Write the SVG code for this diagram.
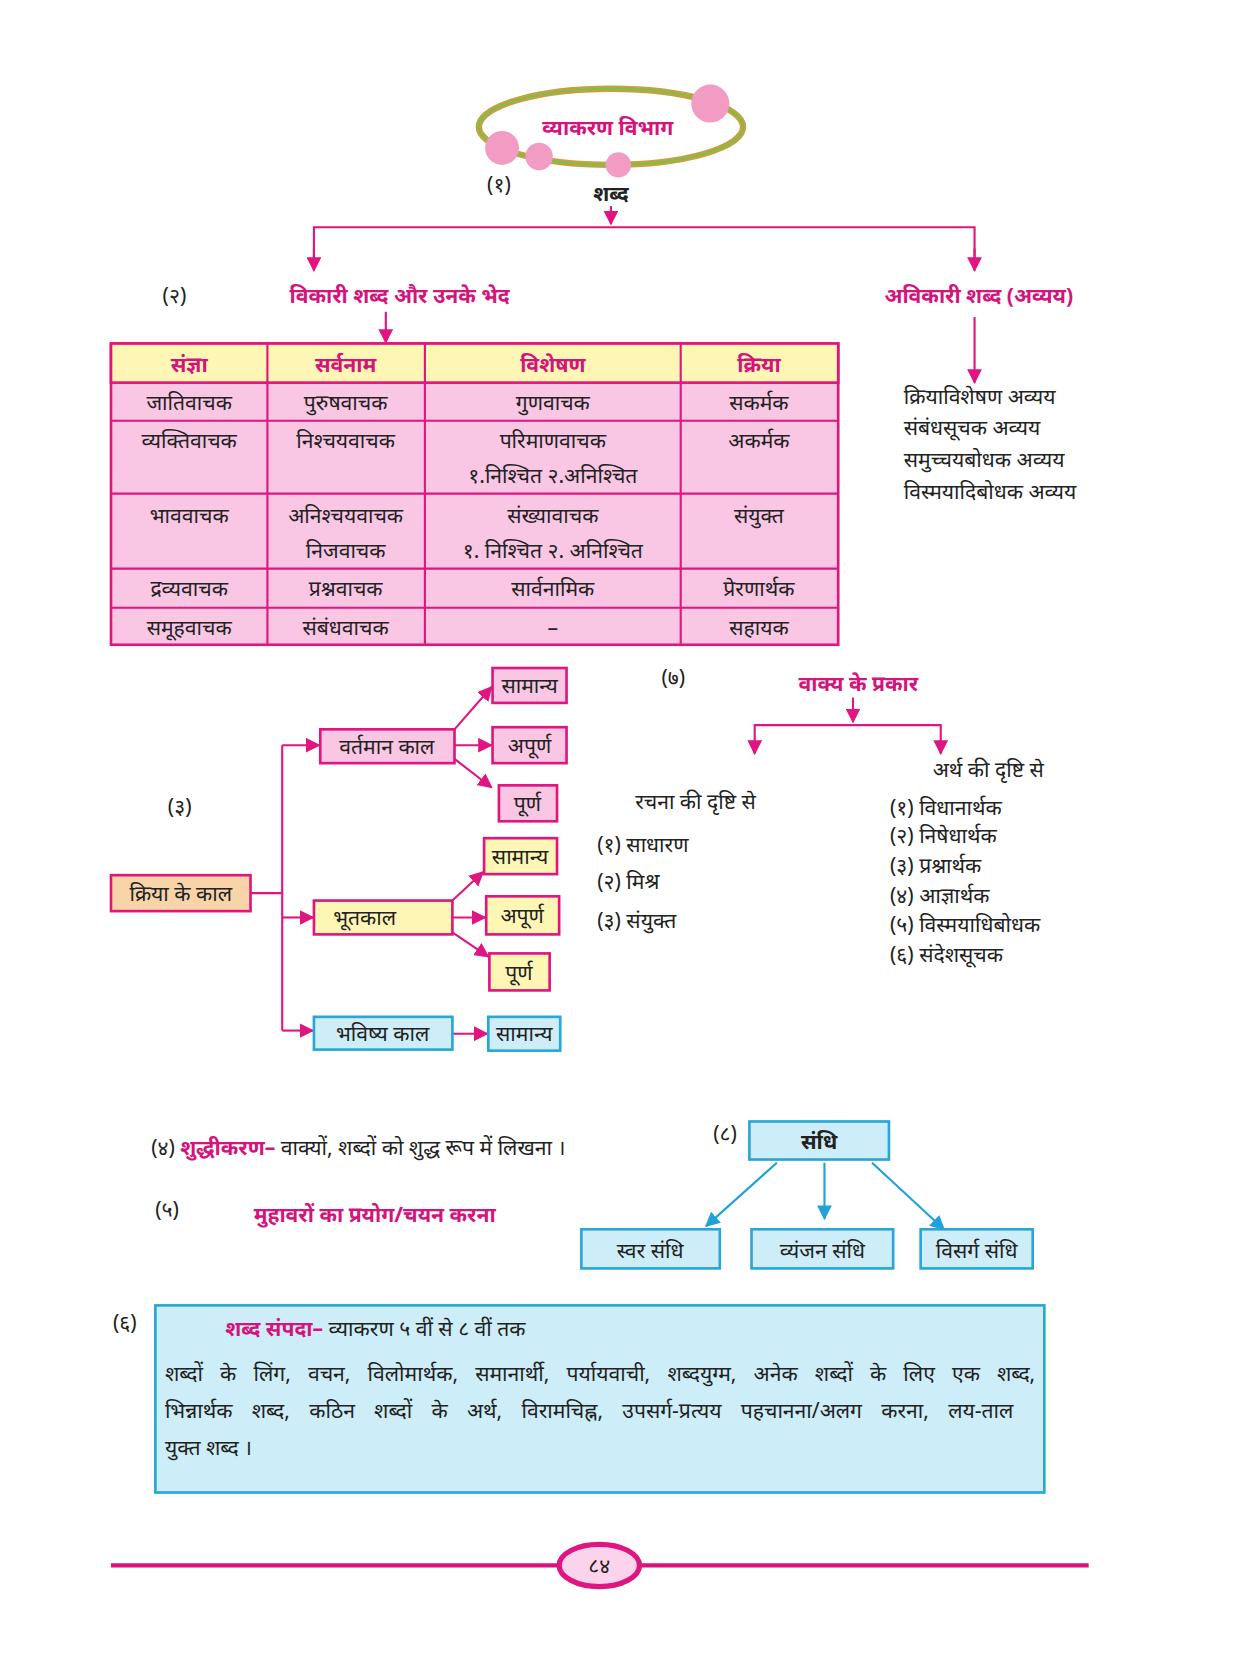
<svg xmlns="http://www.w3.org/2000/svg" width="1241" height="1654" viewBox="0 0 1241 1654">
<style>
text{font-family:"Noto Sans","Noto Sans CJK SC",sans-serif;font-size:20px;fill:#222}
.m{fill:#d4147c;font-weight:bold}
.c{text-anchor:middle}
.ln{stroke:#e0157f;stroke-width:2;fill:none}
.bl{stroke:#1fa2d8;stroke-width:2;fill:none}
.pk{fill:#f9c6e4;stroke:#e0157f;stroke-width:2.5}
.yl{fill:#fdf6b4;stroke:#e0157f;stroke-width:2.5}
.cy{fill:#cdeef8;stroke:#29a6d6;stroke-width:2.5}
</style>
<defs>
<marker id="a" viewBox="0 0 10 10" refX="9" refY="5" markerWidth="7" markerHeight="7" orient="auto"><path d="M0,0L10,5L0,10z" fill="#e0157f"/></marker>
<marker id="b" viewBox="0 0 10 10" refX="9" refY="5" markerWidth="7" markerHeight="7" orient="auto"><path d="M0,0L10,5L0,10z" fill="#1fa2d8"/></marker>
</defs>
<rect width="1241" height="1654" fill="#fff"/>
<g transform="scale(1.057)">
<g id="title">
<ellipse cx="578" cy="120" rx="125" ry="36" fill="none" stroke="#c8a040" stroke-width="6"/>
<ellipse cx="578" cy="120" rx="125" ry="36" fill="none" stroke="#7cbf4a" stroke-width="2"/>
<circle cx="672" cy="98" r="18" fill="#f29cc4"/><circle cx="475" cy="140" r="16" fill="#f29cc4"/><circle cx="510" cy="148" r="13" fill="#f29cc4"/><circle cx="585" cy="156" r="12" fill="#f29cc4"/>
<text x="575" y="128" class="m c" font-size="23">व्याकरण विभाग</text>
</g>
<g id="shabd"><text x="472" y="182" class="c">(१)</text><text x="578" y="190" class="c" font-weight="bold">शब्द</text></g>
<g id="connectors">
<path class="ln" d="M578,195V212" marker-end="url(#a)"/>
<path class="ln" d="M297,255V215H922V255" />
<path class="ln" d="M297,235V256" marker-end="url(#a)"/><path class="ln" d="M922,235V256" marker-end="url(#a)"/>
<path class="ln" d="M365,295V324" marker-end="url(#a)"/>
<path class="ln" d="M922,300V362" marker-end="url(#a)"/>
<path class="ln" d="M237,845H267M267,705V975M267,705H302" marker-end="url(#a)"/>
<path class="ln" d="M267,868H296" marker-end="url(#a)"/><path class="ln" d="M267,975H296" marker-end="url(#a)"/>
<path class="ln" d="M430,690L465,650" marker-end="url(#a)"/><path class="ln" d="M430,705H465" marker-end="url(#a)"/><path class="ln" d="M430,718L465,745" marker-end="url(#a)"/>
<path class="ln" d="M428,852L457,825" marker-end="url(#a)"/><path class="ln" d="M428,868H459" marker-end="url(#a)"/><path class="ln" d="M428,882L462,905" marker-end="url(#a)"/>
<path class="ln" d="M428,978H461" marker-end="url(#a)"/>
<path class="ln" d="M807,660V683" marker-end="url(#a)"/>
<path class="ln" d="M714,712V686H890V712"/><path class="ln" d="M714,700V713" marker-end="url(#a)"/><path class="ln" d="M890,700V713" marker-end="url(#a)"/>
<path class="bl" d="M735,1100L668,1160" marker-end="url(#b)"/><path class="bl" d="M780,1100V1153" marker-end="url(#b)"/><path class="bl" d="M825,1100L893,1163" marker-end="url(#b)"/>
</g>
<g id="vikari"><text x="165" y="287" class="c">(२)</text><text x="378" y="287" class="m c">विकारी शब्द और उनके भेद</text></g>
<g id="avikari"><text x="926" y="287" class="m c">अविकारी शब्द (अव्यय)</text>
<text x="855" y="382">क्रियाविशेषण अव्यय</text><text x="855" y="412">संबंधसूचक अव्यय</text><text x="855" y="442">समुच्चयबोधक अव्यय</text><text x="855" y="472">विस्मयादिबोधक अव्यय</text></g>
<g id="table">
<rect x="105" y="325" width="688" height="285" class="pk"/>
<rect x="105" y="325" width="688" height="37" class="yl"/>
<path class="ln" stroke-width="2.5" d="M105,398H793M105,467H793M105,538H793M105,575H793M253,325V610M402,325V610M644,325V610"/>
<text x="179" y="352" class="m c">संज्ञा</text><text x="327" y="352" class="m c">सर्वनाम</text><text x="523" y="352" class="m c">विशेषण</text><text x="718" y="352" class="m c">क्रिया</text>
<text x="179" y="388" class="c">जातिवाचक</text><text x="327" y="388" class="c">पुरुषवाचक</text><text x="523" y="388" class="c">गुणवाचक</text><text x="718" y="388" class="c">सकर्मक</text>
<text x="179" y="424" class="c">व्यक्तिवाचक</text><text x="327" y="424" class="c">निश्चयवाचक</text><text x="523" y="424" class="c">परिमाणवाचक</text><text x="523" y="457" class="c">१.निश्चित २.अनिश्चित</text><text x="718" y="424" class="c">अकर्मक</text>
<text x="179" y="495" class="c">भाववाचक</text><text x="327" y="495" class="c">अनिश्चयवाचक</text><text x="327" y="528" class="c">निजवाचक</text><text x="523" y="495" class="c">संख्यावाचक</text><text x="523" y="528" class="c">१. निश्चित २. अनिश्चित</text><text x="718" y="495" class="c">संयुक्त</text>
<text x="179" y="564" class="c">द्रव्यवाचक</text><text x="327" y="564" class="c">प्रश्नवाचक</text><text x="523" y="564" class="c">सार्वनामिक</text><text x="718" y="564" class="c">प्रेरणार्थक</text>
<text x="179" y="601" class="c">समूहवाचक</text><text x="327" y="601" class="c">संबंधवाचक</text><text x="523" y="601" class="c">–</text><text x="718" y="601" class="c">सहायक</text>
</g>
<g id="kaal"><text x="170" y="770" class="c">(३)</text>
<rect x="105" y="828" width="132" height="34" fill="#f9d4a8" stroke="#e0157f" stroke-width="2.5"/><text x="171" y="852" class="c">क्रिया के काल</text></g>
<g id="vartaman"><rect x="303" y="690" width="127" height="32" class="pk"/><text x="366" y="713" class="c">वर्तमान काल</text>
<rect x="466" y="632" width="70" height="33" class="pk"/><text x="501" y="656" class="c">सामान्य</text>
<rect x="466" y="688" width="70" height="34" class="pk"/><text x="501" y="712" class="c">अपूर्ण</text>
<rect x="472" y="743" width="55" height="34" class="pk"/><text x="499" y="767" class="c">पूर्ण</text></g>
<g id="bhoot"><rect x="297" y="852" width="131" height="32" class="yl"/><text x="345" y="875" class="c">भूतकाल</text>
<rect x="458" y="793" width="69" height="34" class="yl"/><text x="492" y="817" class="c">सामान्य</text>
<rect x="460" y="848" width="69" height="36" class="yl"/><text x="494" y="873" class="c">अपूर्ण</text>
<rect x="463" y="902" width="57" height="35" class="yl"/><text x="491" y="927" class="c">पूर्ण</text></g>
<g id="bhavishya"><rect x="297" y="962" width="131" height="31" class="cy"/><text x="362" y="985" class="c">भविष्य काल</text>
<rect x="462" y="962" width="68" height="32" class="cy"/><text x="496" y="985" class="c">सामान्य</text></g>
<g id="vakya"><text x="637" y="648" class="c">(७)</text><text x="812" y="654" class="m c">वाक्य के प्रकार</text>
<text x="658" y="765" class="c">रचना की दृष्टि से</text><text x="935" y="735" class="c">अर्थ की दृष्टि से</text>
<text x="565" y="806">(१) साधारण</text><text x="565" y="841">(२) मिश्र</text><text x="565" y="878">(३) संयुक्त</text>
<text x="842" y="771">(१) विधानार्थक</text><text x="842" y="798">(२) निषेधार्थक</text><text x="842" y="826">(३) प्रश्नार्थक</text><text x="842" y="854">(४) आज्ञार्थक</text><text x="842" y="882">(५) विस्मयाधिबोधक</text><text x="842" y="910">(६) संदेशसूचक</text></g>
<g id="shuddhi"><text x="143" y="1093">(४) <tspan class="m">शुद्धीकरण–</tspan>  वाक्यों, शब्दों को शुद्ध रूप में लिखना ।</text></g>
<g id="muhavare"><text x="158" y="1151" class="c">(५)</text><text x="240" y="1156" class="m">मुहावरों का प्रयोग/चयन करना</text></g>
<g id="sandhi"><text x="686" y="1079" class="c">(८)</text>
<rect x="709" y="1061" width="132" height="36" class="cy"/><text x="775" y="1087" class="c" font-weight="bold" font-size="23">संधि</text>
<rect x="550" y="1163" width="131" height="37" class="cy"/><text x="615" y="1190" class="c" font-size="22">स्वर संधि</text>
<rect x="711" y="1163" width="134" height="37" class="cy"/><text x="778" y="1190" class="c" font-size="22">व्यंजन संधि</text>
<rect x="871" y="1163" width="106" height="37" class="cy"/><text x="924" y="1190" class="c" font-size="22">विसर्ग संधि</text></g>
<g id="sampada"><text x="118" y="1258" class="c">(६)</text>
<rect x="147" y="1235" width="841" height="177" class="cy"/>
<text x="213" y="1264"><tspan class="m">शब्द संपदा–</tspan> व्याकरण ५ वीं से ८ वीं तक</text>
<text x="156" y="1307" font-size="22" word-spacing="11">शब्दों के लिंग, वचन, विलोमार्थक, समानार्थी, पर्यायवाची, शब्दयुग्म, अनेक शब्दों के लिए एक शब्द,</text>
<text x="156" y="1342" font-size="22" word-spacing="13">भिन्नार्थक शब्द, कठिन शब्दों के अर्थ, विरामचिह्न, उपसर्ग-प्रत्यय पहचानना/अलग करना, लय-ताल</text>
<text x="156" y="1377" font-size="22">युक्त शब्द ।</text></g>
<g id="footer"><path d="M105,1481H1030" stroke="#d4147c" stroke-width="4"/>
<ellipse cx="567" cy="1481" rx="38" ry="20" fill="#fbd3ea" stroke="#e0157f" stroke-width="5"/><text x="567" y="1488" class="c">८४</text></g>
</g>
</svg>
